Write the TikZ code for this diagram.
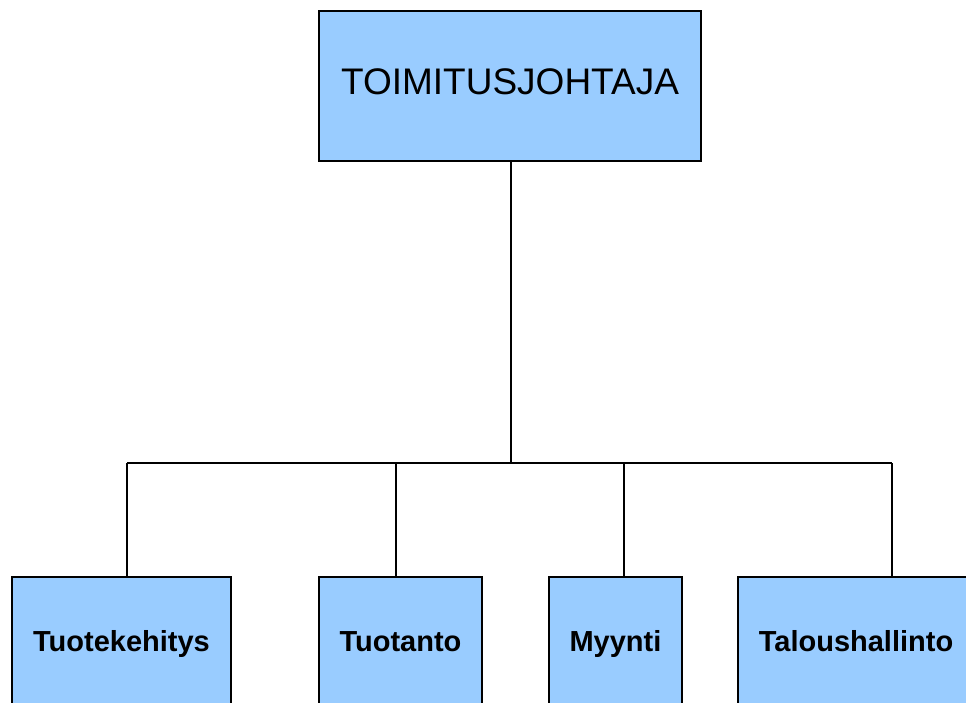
\documentclass[tikz,border=0pt]{standalone}
\usepackage{fontspec}
\setmainfont{Liberation Sans}
\usetikzlibrary{positioning}
\definecolor{boxblue}{HTML}{99CCFF}

\begin{document}
\begin{tikzpicture}[x=1pt,y=-1pt,
 box/.style={draw=black,line width=1.8pt,fill=boxblue,inner sep=0pt,anchor=north},
 head/.style={box,minimum width=382pt,minimum height=150pt,text height=27pt,text depth=9pt,font=\fontsize{37}{44}\selectfont},
 dept/.style={box,minimum height=130pt,text height=22pt,text depth=2pt,font=\fontsize{29}{35}\selectfont\bfseries},
 link/.style={line width=2pt}]
 \useasboundingbox (0,0) rectangle (966,702);
 \node[head] (ceo) at (510,10) {TOIMITUSJOHTAJA};
 \node[dept,minimum width=219pt] (dev) at (121.5,576) {Tuotekehitys};
 \node[dept,minimum width=163pt] (prod) at (400.5,576) {Tuotanto};
 \node[dept,minimum width=133pt] (sales) at (615.5,576) {Myynti};
 \node[dept,minimum width=236pt] (fin) at (856,576) {Taloushallinto};
 \coordinate (bus) at (511,463);
 \coordinate (b1) at (127,463);
 \coordinate (b2) at (396,463);
 \coordinate (b3) at (624,463);
 \coordinate (b4) at (892,463);
 \draw[link] (bus |- ceo.south) -- (bus);
 \draw[link] (b1) -- (b4);
 \draw[link] (b1) -- (b1 |- dev.north);
 \draw[link] (b2) -- (b2 |- prod.north);
 \draw[link] (b3) -- (b3 |- sales.north);
 \draw[link] (b4) -- (b4 |- fin.north);
\end{tikzpicture}
\end{document}
